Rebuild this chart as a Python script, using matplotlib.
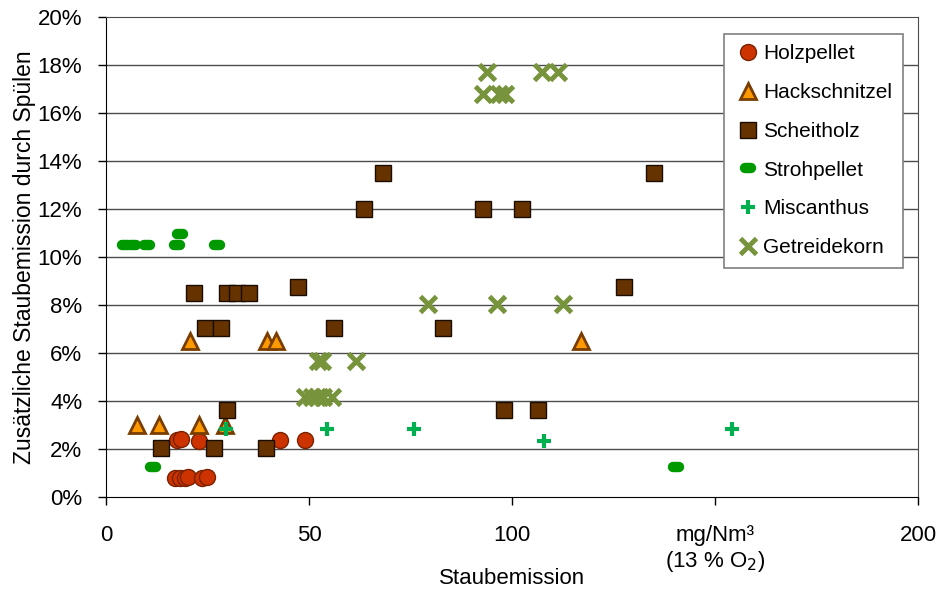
import matplotlib
matplotlib.use("Agg")
import matplotlib.pyplot as plt
from matplotlib.markers import MarkerStyle
from matplotlib.ticker import FuncFormatter

plt.rcParams['font.family'] = ['Liberation Sans', 'DejaVu Sans']

# Staubemission (mg/Nm3, 13 % O2) vs. zusaetzliche Staubemission durch Spuelen (%)
holz_x = [17.5, 18.5, 22.9, 42.9, 49.0, 17.0, 18.2, 19.5, 20.2, 23.6, 24.9]
holz_y = [2.38, 2.4, 2.34, 2.38, 2.38, 0.8, 0.8, 0.8, 0.82, 0.8, 0.82]

hack_x = [7.7, 13.1, 22.9, 29.3, 20.7, 39.6, 41.9, 117.0]
hack_y = [3.0, 3.0, 3.0, 3.0, 6.5, 6.5, 6.5, 6.5]

scheit_x = [21.7, 29.8, 32.3, 35.2, 47.3, 24.4, 28.3, 56.2, 29.8, 13.5, 26.6, 39.4,
            68.2, 63.5, 92.9, 102.5, 83.0, 98.0, 106.4, 135.0, 127.6]
scheit_y = [8.5, 8.5, 8.5, 8.5, 8.75, 7.06, 7.06, 7.06, 3.63, 2.05, 2.05, 2.05,
            13.5, 12.0, 12.0, 12.0, 7.06, 3.63, 3.63, 13.5, 8.75]

stroh_x = [4.7, 6.7, 10.1, 17.5, 18.2, 27.3, 11.6, 140.4]
stroh_y = [10.5, 10.5, 10.5, 10.5, 10.95, 10.5, 1.25, 1.25]

misc_x = [29.6, 54.4, 75.9, 107.9, 154.2]
misc_y = [2.84, 2.84, 2.84, 2.34, 2.84]

getr_x = [79.3, 96.3, 112.6, 52.2, 53.2, 61.6, 49.0, 50.7, 52.0, 53.4, 55.7,
          93.8, 107.4, 111.3, 92.8, 96.8, 98.3]
getr_y = [8.06, 8.06, 8.06, 5.68, 5.68, 5.68, 4.18, 4.18, 4.18, 4.18, 4.18,
          17.7, 17.7, 17.7, 16.8, 16.8, 16.8]

x_ticks = [0, 50, 100, 150, 200]
x_ticklabels = ['0', '50', '100', 'mg/Nm³\n(13 % O$_2$)', '200']

fig = plt.figure(figsize=(9.37, 5.91), dpi=100)
ax = fig.add_axes([0.1131, 0.159, 0.8666, 0.8122])

for y in range(2, 20, 2):
    ax.axhline(y, color='0.3', lw=1.0, zorder=0)

ax.plot(holz_x, holz_y, ls='none', marker='o', ms=11.5, mfc='#CC3300', mec='#7a2200',
        mew=1.0, label='Holzpellet', zorder=3)
ax.plot(hack_x, hack_y, ls='none', marker='^', ms=12, mfc='#FF9900', mec='#7a3d00',
        mew=2.0, label='Hackschnitzel', zorder=3)
ax.plot(scheit_x, scheit_y, ls='none', marker='s', ms=11, mfc='#663300', mec='#1a0d00',
        mew=1.0, label='Scheitholz', zorder=3)
pill = MarkerStyle('_', capstyle='round')
ax.plot(stroh_x, stroh_y, ls='none', marker=pill, ms=5, mec='#009900', mew=7.5,
        label='Strohpellet', zorder=3)
ax.plot(misc_x, misc_y, ls='none', marker='+', ms=10, mec='#00B050', mew=3.0,
        label='Miscanthus', zorder=3)
ax.plot(getr_x, getr_y, ls='none', marker='x', ms=11, mec='#77933C', mew=3.5,
        label='Getreidekorn', zorder=3)

ax.set_xlim(0, 200)
ax.set_ylim(0, 20)
ax.set_xticks(x_ticks)
ax.set_xticklabels(x_ticklabels)
ax.set_yticks(range(0, 21, 2))
ax.yaxis.set_major_formatter(FuncFormatter(lambda v, p: '%d%%' % v))
ax.tick_params(axis='both', direction='out', length=6, width=1, labelsize=16, color='black')
ax.tick_params(axis='x', pad=14)
ax.tick_params(axis='y', pad=11)
for s in ax.spines.values():
    s.set_color('0.3')
ax.spines['left'].set_color('black')
ax.spines['bottom'].set_color('black')

ax.set_xlabel('Staubemission', fontsize=16)
ax.xaxis.set_label_coords(0.5, -0.148)
ax.set_ylabel('Zusätzliche Staubemission durch Spülen', fontsize=16.5, va='center')
ax.yaxis.set_label_coords(-0.1, 0.5)

leg = ax.legend(loc='upper right', bbox_to_anchor=(0.981, 0.965), borderaxespad=0,
                fontsize=15, frameon=True, fancybox=False, edgecolor='0.5', framealpha=1,
                handletextpad=0.1, handlelength=1.3, labelspacing=0.95, borderpad=0.5,
                numpoints=1)
leg.get_frame().set_linewidth(1.2)

fig.savefig('out.png', dpi=100)
